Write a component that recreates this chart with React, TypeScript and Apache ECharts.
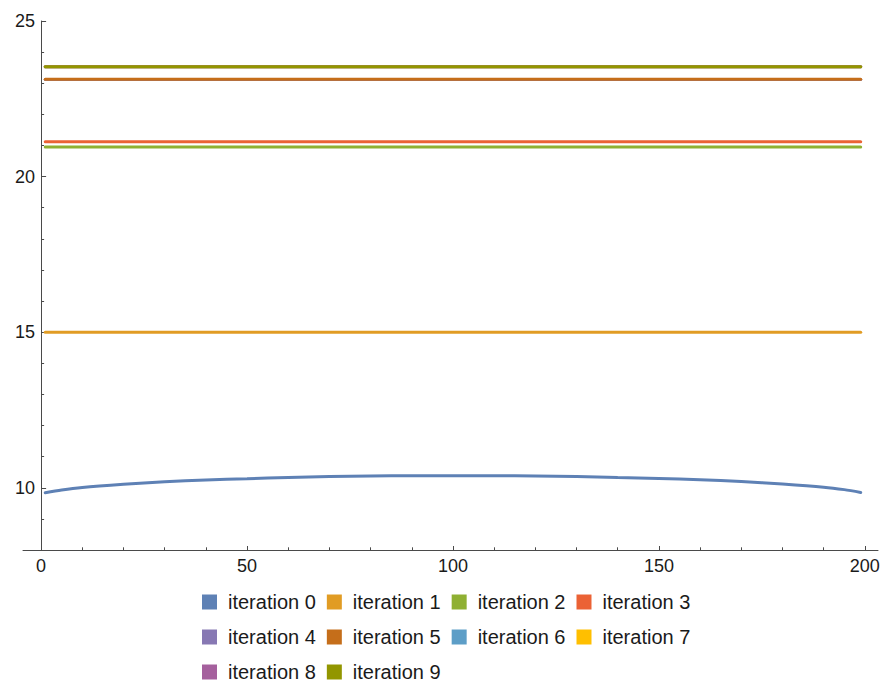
import React, { useEffect, useRef } from "react";
import * as echarts from "echarts";

// x positions (sample points) for the curved series
const xs = [1, 5, 10, 20, 30, 40, 50, 60, 70, 80, 90, 100, 110, 120, 130, 140, 150, 160, 170, 180, 190, 195, 199];
const iteration0 = [9.84, 9.93, 10.01, 10.11, 10.19, 10.25, 10.29, 10.33, 10.36, 10.38, 10.39, 10.39, 10.39, 10.38, 10.36, 10.33, 10.3, 10.26, 10.2, 10.12, 10.02, 9.94, 9.85];

// flat iterations: start / end x and level
const flatXs = [1, 199];
const flatLevels = [15.0, 20.95, 21.12, 23.12, 23.13, 23.53, 23.53, 23.53, 23.53];

const names = [
  "iteration 0", "iteration 1", "iteration 2", "iteration 3", "iteration 4",
  "iteration 5", "iteration 6", "iteration 7", "iteration 8", "iteration 9",
];
const colors = [
  "#5E81B5", "#E19C24", "#8FB032", "#EB6235", "#8778B3",
  "#C56E1A", "#5D9EC7", "#FFBF00", "#A5609D", "#929600",
];

const xMajor = [0, 50, 100, 150, 200];
const xMinor = [0, 10, 20, 30, 40, 50, 60, 70, 80, 90, 100, 110, 120, 130, 140, 150, 160, 170, 180, 190, 200];
const yMajor = [10, 15, 20, 25];
const yMinor = [8, 9, 10, 11, 12, 13, 14, 15, 16, 17, 18, 19, 20, 21, 22, 23, 24, 25];

const X_MIN = -4.4;
const X_MAX = 203.2;
const Y_MIN = 8;
const Y_MAX = 25;

const FONT = "Liberation Sans, Arial, sans-serif";
const AXIS_COLOR = "#4a4a4a";

export default function App() {
  const ref = useRef<HTMLDivElement>(null);
  useEffect(() => {
    if (!ref.current) return;
    const chart = echarts.init(ref.current, null, { renderer: "svg" });
    const series: any[] = [];
    series.push({
      name: names[0],
      type: "line",
      data: xs.map((x, i) => [x, iteration0[i]]),
      smooth: 0.3,
      showSymbol: false,
      symbol: "none",
      color: colors[0],
      lineStyle: { width: 3, color: colors[0], cap: "round" },
    });
    flatLevels.forEach((v, i) => {
      series.push({
        name: names[i + 1],
        type: "line",
        data: flatXs.map((x) => [x, v]),
        showSymbol: false,
        symbol: "none",
        color: colors[i + 1],
        lineStyle: { width: 3, color: colors[i + 1], cap: "round" },
      });
    });
    chart.setOption({
      animation: false,
      backgroundColor: "#ffffff",
      grid: { left: 23, right: 10, top: 21, bottom: 132, outerBoundsMode: "none" },
      xAxis: [
        {
          type: "value",
          min: X_MIN,
          max: X_MAX,
          position: "bottom",
          axisLine: { show: true, lineStyle: { color: AXIS_COLOR, width: 1 } },
          axisTick: { show: true, inside: true, length: 4, customValues: xMajor, lineStyle: { color: AXIS_COLOR } },
          axisLabel: { show: true, customValues: xMajor, fontSize: 18, fontFamily: FONT, color: "#1a1a1a", margin: 7 },
          splitLine: { show: false },
        },
        {
          type: "value",
          min: X_MIN,
          max: X_MAX,
          position: "bottom",
          axisLine: { show: false },
          axisTick: { show: true, inside: true, length: 2.7, customValues: xMinor, lineStyle: { color: AXIS_COLOR } },
          axisLabel: { show: false },
          splitLine: { show: false },
        },
      ],
      yAxis: [
        {
          type: "value",
          min: Y_MIN,
          max: Y_MAX,
          position: "left",
          axisLine: { show: true, onZero: true, onZeroAxisIndex: 0, lineStyle: { color: AXIS_COLOR, width: 1 } },
          axisTick: { show: true, inside: true, length: 5, customValues: yMajor, lineStyle: { color: AXIS_COLOR } },
          axisLabel: { show: true, customValues: yMajor, fontSize: 18, fontFamily: FONT, color: "#1a1a1a", margin: -12 },
          splitLine: { show: false },
        },
        {
          type: "value",
          min: Y_MIN,
          max: Y_MAX,
          position: "left",
          axisLine: { show: false, onZero: true, onZeroAxisIndex: 0 },
          axisTick: { show: true, inside: true, length: 3, customValues: yMinor, lineStyle: { color: AXIS_COLOR } },
          axisLabel: { show: false },
          splitLine: { show: false },
        },
      ],
      legend: {
        data: names,
        left: 202,
        top: 590,
        width: 500,
        orient: "horizontal",
        padding: 0,
        itemGap: 11,
        itemWidth: 15,
        itemHeight: 15,
        icon: "rect",
        textStyle: { fontSize: 20, fontFamily: FONT, color: "#1a1a1a", padding: [0, 0, 0, 6], lineHeight: 24 },
      },
      series,
    });
    return () => chart.dispose();
  }, []);
  return (
    <div
      ref={ref}
      style={{ position: "absolute", left: 0, top: 0, width: 888, height: 682 }}
    />
  );
}
